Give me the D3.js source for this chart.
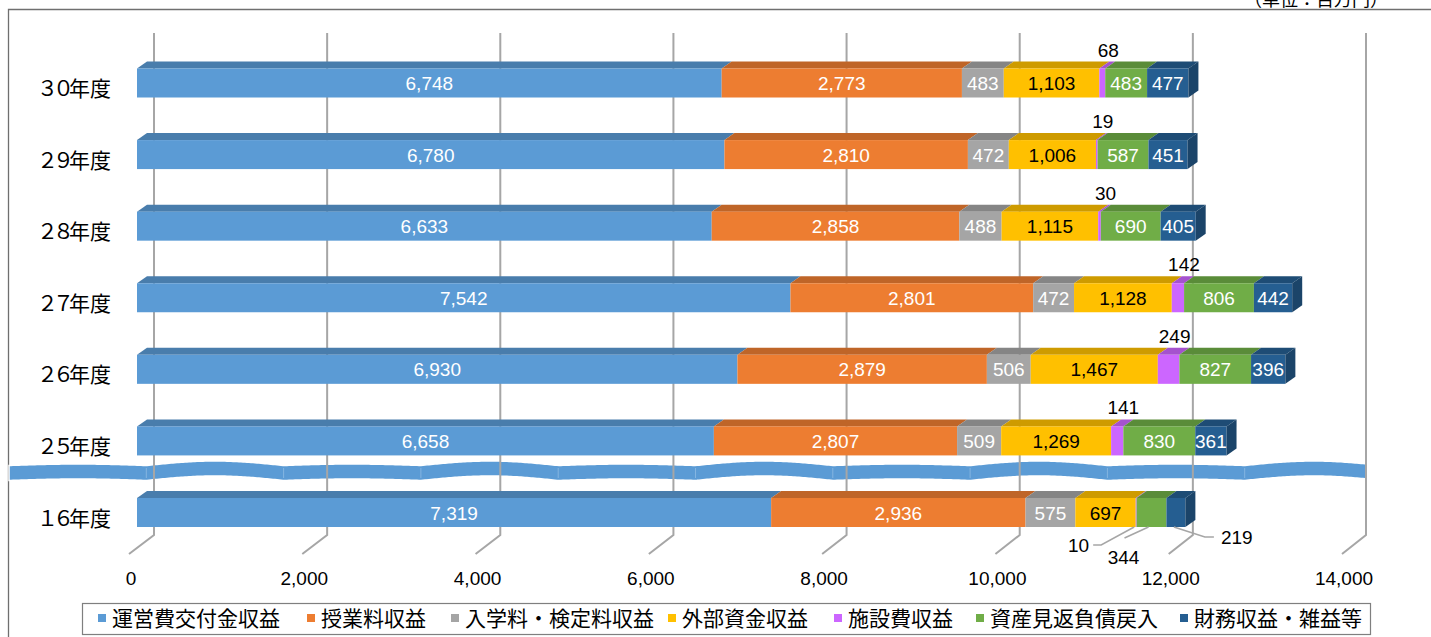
<!DOCTYPE html>
<html><head><meta charset="utf-8">
<script src="https://cdn.jsdelivr.net/npm/d3@7"></script>
<style>body{margin:0;background:#fff;} svg{display:block}</style>
</head><body><svg id="c" width="1431" height="637"></svg>
<script>
// ---- data ----
const categories = ["３０年度","２９年度","２８年度","２７年度","２６年度","２５年度","１６年度"];
const seriesNames = ["運営費交付金収益","授業料収益","入学料・検定料収益","外部資金収益","施設費収益","資産見返負債戻入","財務収益・雑益等"];
const opGrant     = [6748,6780,6633,7542,6930,6658,7319];
const tuition     = [2773,2810,2858,2801,2879,2807,2936];
const admission   = [483,472,488,472,506,509,575];
const external    = [1103,1006,1115,1128,1467,1269,697];
const facility    = [68,19,30,142,249,141,10];
const assetReturn = [483,587,690,806,827,830,344];
const financial   = [477,451,405,442,396,361,219];
const tickValues  = [0,2000,4000,6000,8000,10000,12000,14000];
const unitLabel   = "（単位：百万円）";

// ---- styles ----
const seriesColors = ["#5B9BD5","#ED7D31","#A5A5A5","#FFC000","#CC66FF","#70AD47","#255E91"];
const labelColors  = ["#fff","#fff","#fff","#000","#000","#fff","#fff"];

const seriesValues = [opGrant,tuition,admission,external,facility,assetReturn,financial];
const table = categories.map((c,i)=>{const o={cat:c}; seriesNames.forEach((s,j)=>o[s]=seriesValues[j][i]); return o;});
const stack = d3.stack().keys(seriesNames)(table);

const svg = d3.select("#c");
const W=1431,H=637;
const xF = d3.scaleLinear().domain([0,14000]).range([129,1342]);   // floor front edge
const xB = d3.scaleLinear().domain([0,14000]).range([154,1366]);   // back wall
const xBar = d3.scaleLinear().domain([0,14000]).range([137,1350]); // bar front face
const y = d3.scalePoint().domain(categories).range([83,512.5]);
const BH=29, DX=10, DY=7;
const numFont = "'Liberation Sans', Arial, sans-serif";
const jpFont = "'Noto Sans CJK JP', 'Noto Sans', sans-serif";
const fmt = d3.format(",");

// frame
svg.append("path").attr("d",`M8.5,637 V9.5 H${W}`).attr("fill","none").attr("stroke","#6f6f6f").attr("stroke-width",1.3);
svg.append("text").attr("x",1388).attr("y",6).attr("text-anchor","end")
  .attr("font-family",jpFont).attr("font-size",18).text(unitLabel);

// wave break between 25 and 16
const waveG = svg.append("g");
const segW = 137.3, wx0 = 9, wx1 = 1367, wc = 473, wamp = 3, wth = 15;
const topPts=[], botPts=[];
for(let x=wx0;x<=wx1;x+=2){
  const t=((x-wx0)%segW)/segW;
  const yc = wc - wamp*Math.sin(Math.PI*t) + 1.5*Math.sin(2*Math.PI*(x-wx0)/(segW*2));
  topPts.push([x,yc-wth/2]); botPts.push([x,yc+wth/2]);
}
const wavePath = "M"+topPts.map(p=>p.join(",")).join("L")+"L"+botPts.reverse().map(p=>p.join(",")).join("L")+"Z";
waveG.append("path").attr("d",wavePath).attr("fill","#5B9BD5").attr("stroke","#fff").attr("stroke-width",1.5);
for(let x=wx0+segW;x<wx1;x+=segW){
  waveG.append("line").attr("x1",x).attr("x2",x).attr("y1",wc-5).attr("y2",wc+5)
    .attr("stroke","#8fbbe3").attr("stroke-width",0.8);
}

// gridlines (back wall + floor)
svg.append("g").selectAll("path").data(tickValues).join("path")
  .attr("d",d=>`M${xB(d)},33 V535 L${xF(d)},554`)
  .attr("fill","none").attr("stroke","#A6A6A6").attr("stroke-width",2);

// tick labels
svg.append("g").selectAll("text").data(tickValues).join("text")
  .attr("x",d=>xF(d)+2).attr("y",585).attr("text-anchor","middle")
  .attr("font-family",numFont).attr("font-size",19).text(d=>fmt(d));

// category labels
const catG = svg.append("g");
categories.forEach(c=>{
  const t = catG.append("text").attr("x",37).attr("y",y(c)+13)
    .attr("font-family",jpFont).attr("font-size",21).attr("fill","#000");
  t.append("tspan").attr("letter-spacing","-5px").text(c.slice(0,2));
  t.append("tspan").text(c.slice(2));
});

// bars
const barG = svg.append("g");
categories.forEach((c,i)=>{
  const yt = y(c)-BH/2;
  const g = barG.append("g");
  stack.forEach((s,j)=>{
    const x0=xBar(s[i][0]), x1=xBar(s[i][1]);
    const col=d3.color(seriesColors[j]);
    g.append("path").attr("d",`M${x0},${yt} L${x0+DX},${yt-DY} L${x1+DX},${yt-DY} L${x1},${yt} Z`)
      .attr("fill",col.darker(0.6));
  });
  stack.forEach((s,j)=>{
    const x0=xBar(s[i][0]), x1=xBar(s[i][1]);
    g.append("rect").attr("x",x0).attr("y",yt).attr("width",Math.max(0,x1-x0)).attr("height",BH)
      .attr("fill",seriesColors[j]);
  });
  const last = stack[stack.length-1][i][1];
  const xe = xBar(last);
  g.append("path").attr("d",`M${xe},${yt} L${xe+DX},${yt-DY} L${xe+DX},${yt+BH-DY} L${xe},${yt+BH} Z`)
    .attr("fill",d3.color(seriesColors[seriesColors.length-1]).darker(0.9));
});

// value labels
const labG = svg.append("g").attr("font-family",numFont).attr("font-size",19);
const lastIdx = categories.length-1;
categories.forEach((c,i)=>{
  const yt = y(c)-BH/2, yb = yt+BH;
  stack.forEach((s,j)=>{
    const v = seriesValues[j][i];
    const xm = xBar((s[i][0]+s[i][1])/2);
    if(i===lastIdx && j>=4){
      let pts, tx, ty, anchor;
      if(j===4){ pts=[[xm-2,yb],[xm-35,yb+18],[xm-43,yb+18]]; tx=xm-47; ty=yb+25; anchor="end"; }
      else if(j===5){ pts=[[xm-3,yb],[xm-27,yb+11]]; tx=xm-28; ty=yb+37; anchor="middle"; }
      else { pts=[[xm-2,yb],[xm+29,yb+10],[xm+38,yb+10]]; tx=xm+45; ty=yb+17; anchor="start"; }
      labG.append("path").attr("d","M"+pts.map(p=>p.join(",")).join("L")).attr("fill","none")
        .attr("stroke","#A6A6A6").attr("stroke-width",1.5);
      labG.append("text").attr("x",tx).attr("y",ty).attr("text-anchor",anchor).attr("fill","#000").text(fmt(v));
    } else if(j===4){
      labG.append("text").attr("x",xm+6).attr("y",yt-12).attr("text-anchor","middle").attr("fill","#000").text(fmt(v));
    } else {
      labG.append("text").attr("x",xm).attr("y",y(c)+7).attr("text-anchor","middle")
        .attr("fill",labelColors[j]).text(fmt(v));
    }
  });
});

// legend
const legG = svg.append("g");
legG.append("rect").attr("x",82.5).attr("y",603.5).attr("width",1288).attr("height",31)
  .attr("fill","#fff").attr("stroke","#7f7f7f").attr("stroke-width",1.2);
const legX = [98,307,451,668,834,976,1180];
seriesNames.forEach((n,j)=>{
  legG.append("rect").attr("x",legX[j]).attr("y",614).attr("width",8).attr("height",8).attr("fill",seriesColors[j]);
  legG.append("text").attr("x",legX[j]+14).attr("y",626).attr("font-family",jpFont).attr("font-size",21)
    .attr("fill","#000").text(n);
});
</script></body></html>
